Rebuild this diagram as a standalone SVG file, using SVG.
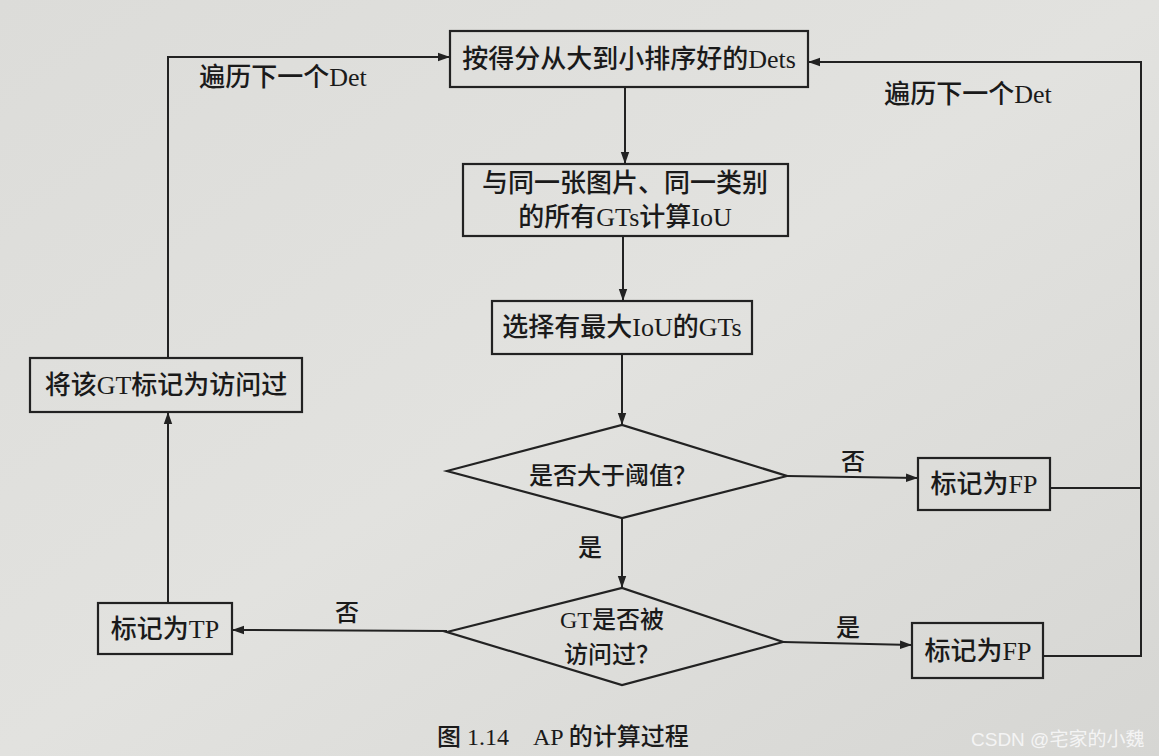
<svg xmlns="http://www.w3.org/2000/svg" width="1159" height="756" viewBox="0 0 1159 756">
<defs>
<linearGradient id="bg" x1="0" y1="0" x2="1" y2="1">
<stop offset="0" stop-color="#dcdcd9"/>
<stop offset="0.5" stop-color="#e2e2df"/>
<stop offset="1" stop-color="#d6d6d3"/>
</linearGradient>
<marker id="arr" viewBox="0 0 10 10" refX="10" refY="5" markerWidth="12" markerHeight="12" markerUnits="userSpaceOnUse" orient="auto">
<path d="M0,1.5 L10,5 L0,8.5 Z" fill="#222"/>
</marker>
<style>
.box{fill:none;stroke:#222;stroke-width:2.2}
.ln{fill:none;stroke:#222;stroke-width:2}
.t{font-family:"Liberation Serif","Noto Sans CJK SC",serif;fill:#1a1a1a;text-anchor:middle;font-weight:500}
.s26{font-size:26px}
.s24{font-size:24px}
</style>
</defs>
<rect width="1159" height="756" fill="url(#bg)"/>

<g id="connectors">
<path class="ln" d="M625,88 L625,164" marker-end="url(#arr)"/>
<path class="ln" d="M623,236 L623,301" marker-end="url(#arr)"/>
<path class="ln" d="M622,354 L622,425" marker-end="url(#arr)"/>
<path class="ln" d="M787,476 L918,478" marker-end="url(#arr)"/>
<path class="ln" d="M622,518 L622,588" marker-end="url(#arr)"/>
<path class="ln" d="M447,631 L232,630" marker-end="url(#arr)"/>
<path class="ln" d="M783,642 L912,645" marker-end="url(#arr)"/>
<path class="ln" d="M168,603 L168,412" marker-end="url(#arr)"/>
<path class="ln" d="M168,358 L168,57 L450,57" marker-end="url(#arr)"/>
<path class="ln" d="M1050,488 L1141,488"/>
<path class="ln" d="M1043,656 L1141,656 L1141,62 L808,62" marker-end="url(#arr)"/>
<text class="t s26" x="283" y="86">遍历下一个Det</text>
<text class="t s26" x="968" y="103">遍历下一个Det</text>
<text class="t s24" x="853" y="470">否</text>
<text class="t s24" x="590" y="556">是</text>
<text class="t s24" x="347" y="621">否</text>
<text class="t s24" x="848" y="636">是</text>
</g>

<g id="sort">
<rect class="box" x="450" y="31" width="358" height="56"/>
<text class="t s26" x="629" y="68">按得分从大到小排序好的Dets</text>
</g>

<g id="iou">
<rect class="box" x="463" y="164" width="325" height="72"/>
<text class="t s26" x="625" y="192">与同一张图片、同一类别</text>
<text class="t s26" x="625" y="226">的所有GTs计算IoU</text>
</g>

<g id="maxiou">
<rect class="box" x="492" y="301" width="260" height="53"/>
<text class="t s26" x="622" y="336">选择有最大IoU的GTs</text>
</g>

<g id="threshold">
<polygon class="box" points="447,471 622,425 787,476 622,518"/>
<text class="t s24" x="613" y="484">是否大于阈值？</text>
</g>

<g id="fp1">
<rect class="box" x="918" y="458" width="132" height="52"/>
<text class="t s26" x="984" y="493">标记为FP</text>
</g>

<g id="visited">
<polygon class="box" points="447,632 622,588 783,642 622,685"/>
<text class="t s24" x="612" y="628">GT是否被</text>
<text class="t s24" x="612" y="663">访问过？</text>
</g>

<g id="tp">
<rect class="box" x="98" y="603" width="134" height="51"/>
<text class="t s26" x="165" y="638">标记为TP</text>
</g>

<g id="fp2">
<rect class="box" x="912" y="623" width="131" height="55"/>
<text class="t s26" x="978" y="660">标记为FP</text>
</g>

<g id="markvisited">
<rect class="box" x="30" y="358" width="272" height="54"/>
<text class="t s26" x="166" y="394">将该GT标记为访问过</text>
</g>

<text class="t" style="font-size:24px;text-anchor:start" x="437" y="745" xml:space="preserve">图 1.14    AP 的计算过程</text>
<text style="font-family:'Liberation Sans','Noto Sans CJK SC',sans-serif;font-size:19px;fill:#f4f4f4" x="971" y="746">CSDN @宅家的小魏</text>
</svg>
